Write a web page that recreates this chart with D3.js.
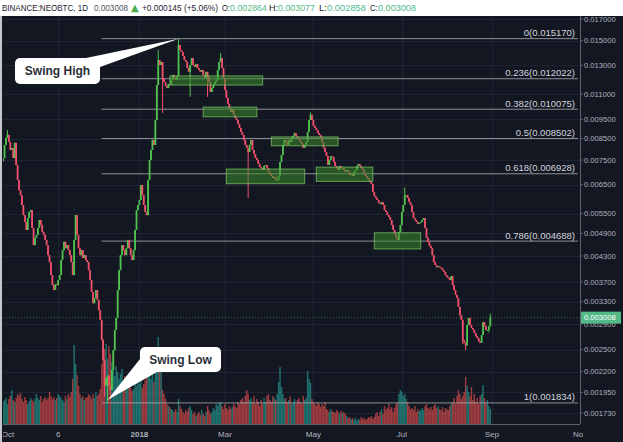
<!DOCTYPE html>
<html><head><meta charset="utf-8">
<script src="https://cdn.jsdelivr.net/npm/d3@7"></script>
<style>html,body{margin:0;padding:0;background:#fff;}svg{display:block;}</style>
</head><body>
<svg id="c" width="623" height="442"></svg>
<script>
// ---------------- DATA ----------------
const startDate = "2017-09-29";          // first daily candle
const firstOpen = 0.00745;
const closes = [
 0.00759,0.00819,0.00853,0.00868,0.00833,0.00795,0.00805,0.00759,0.00829,0.00729,
 0.00668,0.00630,0.00612,0.00578,0.00545,0.00524,0.00500,0.00536,0.00555,0.00561,
 0.00506,0.00458,0.00478,0.00486,0.00506,0.00530,0.00515,0.00494,0.00486,0.00472,
 0.00458,0.00432,0.00415,0.00385,0.00363,0.00353,0.00365,0.00363,0.00374,0.00385,
 0.00420,0.00445,0.00467,0.00450,0.00458,0.00445,0.00432,0.00415,0.00385,0.00472,
 0.00545,0.00486,0.00450,0.00432,0.00445,0.00425,0.00432,0.00420,0.00415,0.00396,
 0.00374,0.00349,0.00327,0.00337,0.00353,0.00333,0.00314,0.00297,0.00264,0.00235,
 0.00203,0.00212,0.00215,0.00203,0.00198,0.00222,0.00249,0.00280,0.00300,0.00353,
 0.00396,0.00432,0.00458,0.00445,0.00432,0.00450,0.00472,0.00450,0.00432,0.00420,
 0.00445,0.00500,0.00561,0.00578,0.00595,0.00649,0.00612,0.00578,0.00555,0.00545,
 0.00668,0.00750,0.00795,0.00843,0.00819,0.00946,0.01159,0.01340,0.01302,0.01325,
 0.01207,0.01180,0.01153,0.01139,0.01166,0.01159,0.01193,0.01229,0.01207,0.01193,
 0.01222,0.01462,0.01420,0.01404,0.01372,0.01340,0.01325,0.01280,0.01251,0.01302,
 0.01356,0.01302,0.01288,0.01310,0.01280,0.01265,0.01251,0.01265,0.01229,0.01207,
 0.01251,0.01222,0.01180,0.01113,0.01139,0.01159,0.01180,0.01193,0.01265,0.01325,
 0.01356,0.01280,0.01207,0.01126,0.01076,0.01039,0.01015,0.00992,0.01003,0.00975,
 0.00958,0.00946,0.00925,0.00904,0.00883,0.00868,0.00843,0.00819,0.00805,0.00786,
 0.00819,0.00843,0.00795,0.00777,0.00759,0.00750,0.00733,0.00721,0.00716,0.00708,
 0.00725,0.00729,0.00716,0.00700,0.00692,0.00684,0.00676,0.00680,0.00668,0.00668,
 0.00684,0.00742,0.00773,0.00819,0.00843,0.00833,0.00819,0.00843,0.00833,0.00853,
 0.00863,0.00878,0.00863,0.00853,0.00843,0.00833,0.00824,0.00805,0.00819,0.00833,
 0.00883,0.00946,0.00975,0.00946,0.00915,0.00904,0.00893,0.00878,0.00868,0.00858,
 0.00833,0.00805,0.00786,0.00768,0.00729,0.00750,0.00768,0.00764,0.00742,0.00725,
 0.00716,0.00708,0.00725,0.00716,0.00716,0.00708,0.00700,0.00708,0.00700,0.00688,
 0.00692,0.00684,0.00700,0.00708,0.00725,0.00733,0.00725,0.00716,0.00708,0.00696,
 0.00684,0.00676,0.00668,0.00660,0.00653,0.00623,0.00609,0.00602,0.00595,0.00585,
 0.00581,0.00588,0.00578,0.00561,0.00555,0.00545,0.00539,0.00530,0.00515,0.00500,
 0.00489,0.00480,0.00472,0.00494,0.00515,0.00555,0.00578,0.00612,0.00612,0.00602,
 0.00588,0.00578,0.00555,0.00536,0.00530,0.00524,0.00518,0.00521,0.00524,0.00530,
 0.00536,0.00506,0.00478,0.00467,0.00456,0.00450,0.00432,0.00415,0.00408,0.00403,
 0.00405,0.00403,0.00401,0.00396,0.00392,0.00385,0.00381,0.00378,0.00374,0.00383,
 0.00363,0.00353,0.00343,0.00337,0.00320,0.00305,0.00297,0.00264,0.00260,0.00256,
 0.00288,0.00300,0.00288,0.00283,0.00280,0.00275,0.00270,0.00267,0.00262,0.00260,
 0.00272,0.00293,0.00286,0.00280,0.00280,0.002864,0.003008
];
const volumes = [
 22,24,26,20,25,28,34,24,22,26, 30,28,31,25,22,27,24,20,23,26,
 24,22,25,30,26,24,28,22,25,27, 24,26,32,28,25,27,24,26,30,28,
 26,24,22,28,25,30,27,32,45,79, 60,49,38,30,26,28,24,26,27,30,
 28,25,30,26,32,28,30,35,60,85, 75,80,65,78,70,62,55,48,58,52,
 45,50,55,42,48,40,38,44,36,33, 35,42,38,45,40,48,36,40,44,52,
 48,55,45,50,42,55,60,87,65,58, 34,30,25,20,18,17,15,14,12,15,
 12,25,18,15,12,10,14,12,16,18, 14,10,12,8,10,12,9,14,10,8,
 12,18,14,10,12,16,14,20,18,21, 22,18,15,20,16,14,18,15,17,20,
 18,16,22,20,24,26,22,28,34,30, 24,26,22,28,20,25,22,18,24,20,
 26,22,28,30,24,22,28,26,24,30, 42,57,37,30,25,26,22,24,28,20,
 22,25,20,24,26,22,20,28,24,26, 53,45,41,25,22,20,18,22,20,17,
 20,18,22,15,14,12,15,13,12,11, 14,12,10,13,11,12,10,8,6,7,
 5,6,4,6,3,5,4,7,5,6, 4,5,7,6,8,5,7,10,12,8,
 12,15,10,18,14,16,20,15,17,12, 16,20,22,30,34,32,28,30,25,22,
 18,15,16,14,18,12,15,13,14,16, 14,18,20,16,15,17,14,18,20,16,
 18,15,14,17,12,16,15,14,18,20, 22,26,20,28,34,30,25,28,32,47,
 38,32,28,37,24,30,22,26,20,28, 30,39,26,22,24,18,15
];
// notable wicks: [candle index, high, low]
const wicks = [
 [3,0.00893,null],[70,null,0.00190],[72,null,0.001834],[74,null,0.00192],
 [107,0.01420,null],[110,null,0.00986],[121,0.01517,null],[129,null,0.01082],
 [141,null,0.01082],[150,0.01395,null],[169,null,0.00602],[212,0.00989,null],
 [277,0.00640,null],[317,null,0.00258],[319,null,0.00249],[335,null,0.00276],
 [336,0.003077,0.002858]
];
const fibRatios = ["0","0.236","0.382","0.5","0.618","0.786","1"];
const fibValues = [0.015170,0.012022,0.010075,0.008502,0.006928,0.004688,0.001834];
const fibStart = "2017-12-06";
const zoneFrom = ["2018-01-22","2018-02-14","2018-04-02","2018-03-02","2018-05-03","2018-06-12"];
const zoneTo   = ["2018-03-27","2018-03-23","2018-05-18","2018-04-25","2018-06-11","2018-07-14"];
const zoneHi   = [0.01222,0.01020,0.00858,0.00712,0.00720,0.00492];
const zoneLo   = [0.01159,0.00964,0.00815,0.00654,0.00663,0.00448];
const priceTicks = [0.017,0.015,0.013,0.011,0.0095,0.0085,0.0075,0.0065,0.0055,0.0049,0.0043,0.0037,0.0033,0.0029,0.0025,0.0022,0.00195,0.00173];
const timeTicks  = ["2017-10-01","2017-11-06","2018-01-01","2018-03-01","2018-05-01","2018-07-01","2018-09-01","2018-11-01"];
const timeLabels = ["Oct","6","2018","Mar","May","Jul","Sep","Nov"];
const lastPrice = 0.003008;
const headerTexts = ["BINANCE:NEOBTC, 1D","0.003008","▲","+0.000145 (+5.06%)","O:","0.002864","H:","0.003077","L:","0.002858","C:","0.003008"];
const headerKinds = ["sym","muted","tri","dark","dark","up","dark","up","dark","up","dark","up"];

// ---------------- LAYOUT ----------------
const W = 623, H = 442;
const plot = {l:3, r:580, t:16, b:424};
const parse = d3.utcParse("%Y-%m-%d");
const t0 = parse(startDate);
const x = d3.scaleUtc().domain([t0, parse("2018-11-01")]).range([3.1, 580.2]);
const y = d3.scaleLog().domain([0.00173, 0.017]).range([413, 19]);
const yv = d3.scaleLinear().domain([0, 100]).range([plot.b, plot.b - 100]);
const C = {bg:"#131722", grid:"#1f2332", up:"#4fc24f", down:"#f0506a",
           vUp:"#26a69a", vDown:"#ef5350", axis:"#5d606b", text:"#b2b5be"};

const data = closes.map((c,i)=>{
  const o = i===0 ? firstOpen : closes[i-1];
  return {date:d3.utcDay.offset(t0,i), o, c, h:Math.max(o,c), l:Math.min(o,c), v:volumes[i]};
});
wicks.forEach(([i,h,l])=>{ if(h!=null) data[i].h=Math.max(data[i].h,h); if(l!=null) data[i].l=Math.min(data[i].l,l); });

const svg = d3.select("#c");
svg.append("rect").attr("width",W).attr("height",H).attr("fill","#ffffff");
svg.append("rect").attr("x",2).attr("y",plot.t).attr("width",W-2).attr("height",H-plot.t).attr("fill",C.bg);
svg.append("line").attr("x1",1).attr("x2",1).attr("y1",plot.t).attr("y2",H).attr("stroke","#c5c7cc").attr("stroke-width",2);

const defs = svg.append("defs");
defs.append("clipPath").attr("id","pc").append("rect")
  .attr("x",plot.l).attr("y",plot.t).attr("width",plot.r-plot.l).attr("height",plot.b-plot.t);
defs.append("clipPath").attr("id","xc").append("rect")
  .attr("x",plot.l).attr("y",plot.b).attr("width",583-plot.l).attr("height",H-plot.b);

// header
const hx = [2,94,131,142,222,230,269,278,319,327,370,378];
const hw = [86,34,8,76,8,37,9,37,8,39,8,38];
const hcol = {sym:"#1e222d", muted:"#50535e", tri:"#4caf50", up:"#53b987", dark:"#1e222d"};
const hg = svg.append("g").attr("font-family","'Liberation Sans', Arial, sans-serif").attr("font-size",8.8);
headerTexts.forEach((t,i)=>{
  const tx = hg.append("text").attr("x",hx[i]).attr("y",10.5).text(t)
    .attr("fill", hcol[headerKinds[i]]);
  if (headerKinds[i]==="tri") tx.attr("font-size",10).attr("font-family","'DejaVu Sans', sans-serif");
  else tx.attr("textLength", hw[i]).attr("lengthAdjust","spacingAndGlyphs");
});

// grid
const g = svg.append("g").attr("clip-path","url(#pc)");
g.selectAll(".hg").data(priceTicks).join("line")
  .attr("x1",plot.l).attr("x2",plot.r).attr("y1",d=>Math.round(y(d))+0.5).attr("y2",d=>Math.round(y(d))+0.5)
  .attr("stroke",C.grid).attr("stroke-width",1);
g.selectAll(".vg").data(timeTicks.slice(1,7)).join("line")
  .attr("x1",d=>Math.round(x(parse(d)))+0.5).attr("x2",d=>Math.round(x(parse(d)))+0.5)
  .attr("y1",plot.t).attr("y2",plot.b).attr("stroke",C.grid).attr("stroke-width",1);

// volume
const bw = x(d3.utcDay.offset(t0,1)) - x(t0);
g.selectAll(".vol").data(data).join("rect")
  .attr("x",d=>x(d.date)-bw/2).attr("width",bw)
  .attr("y",d=>yv(d.v)).attr("height",d=>plot.b-yv(d.v))
  .attr("fill",d=>d.c>=d.o?C.vUp:C.vDown).attr("fill-opacity",0.62);

// fib lines
const fx1 = x(parse(fibStart));
g.selectAll(".fib").data(fibValues).join("line")
  .attr("x1",fx1).attr("x2",plot.r-2).attr("y1",d=>y(d)).attr("y2",d=>y(d))
  .attr("stroke","#a3a6af").attr("stroke-opacity",0.85).attr("stroke-width",1);

// current price line
g.append("line").attr("x1",plot.l).attr("x2",plot.r).attr("y1",y(lastPrice)).attr("y2",y(lastPrice))
  .attr("stroke","#4f8f6e").attr("stroke-opacity",0.6).attr("stroke-dasharray","1,2");

// candles
const cb = 1.8;
g.selectAll(".wick").data(data).join("line")
  .attr("x1",d=>x(d.date)).attr("x2",d=>x(d.date)).attr("y1",d=>y(d.h)).attr("y2",d=>y(d.l))
  .attr("stroke",d=>d.c>=d.o?C.up:C.down).attr("stroke-width",1);
g.selectAll(".body").data(data).join("rect")
  .attr("x",d=>x(d.date)-cb/2).attr("width",cb)
  .attr("y",d=>y(Math.max(d.o,d.c))).attr("height",d=>Math.max(1,Math.abs(y(d.o)-y(d.c))))
  .attr("fill",d=>d.c>=d.o?C.up:C.down);

// zones
g.selectAll(".zone").data(zoneFrom.map((f,i)=>({f:parse(f),t:parse(zoneTo[i]),hi:zoneHi[i],lo:zoneLo[i]}))).join("rect")
  .attr("x",d=>x(d.f)).attr("width",d=>x(d.t)-x(d.f))
  .attr("y",d=>y(d.hi)).attr("height",d=>y(d.lo)-y(d.hi))
  .attr("fill","#3d8a2a").attr("fill-opacity",0.55).attr("stroke","#7cc46a").attr("stroke-opacity",0.75).attr("stroke-width",1);

// fib labels
g.selectAll(".fl").data(fibValues).join("text")
  .attr("x",575).attr("y",d=>y(d)-2.5).attr("text-anchor","end")
  .attr("font-family","'Liberation Sans', Arial, sans-serif").attr("font-size",9.5).attr("fill","#d1d4dc")
  .text((d,i)=>fibRatios[i]+"("+d.toFixed(6)+")");

// callouts
function callout(bx,by,bwid,bh,pts,label){
  const cg = svg.append("g");
  cg.append("polygon").attr("points",pts.map(p=>p.join(",")).join(" ")).attr("fill","#ffffff");
  cg.append("rect").attr("x",bx).attr("y",by).attr("width",bwid).attr("height",bh).attr("rx",5).attr("fill","#ffffff");
  cg.append("text").attr("x",bx+bwid/2).attr("y",by+bh/2+4.2).attr("text-anchor","middle")
    .attr("font-family","'Liberation Sans', Arial, sans-serif").attr("font-weight","bold").attr("font-size",12)
    .attr("fill","#2a2e39").text(label);
}
callout(15,58,85,26,[[86,58],[100,67],[x(data[121].date),y(data[121].h)]],"Swing High");
callout(140,347,81,25,[[140,359],[157,372],[x(data[72].date),y(data[72].l)-3]],"Swing Low");

// right axis
svg.append("line").attr("x1",plot.r+0.5).attr("x2",plot.r+0.5).attr("y1",plot.t).attr("y2",plot.b).attr("stroke",C.axis);
svg.append("line").attr("x1",plot.l).attr("x2",plot.r).attr("y1",plot.b+0.5).attr("y2",plot.b+0.5).attr("stroke",C.axis);
const ra = svg.append("g").attr("font-family","'Liberation Sans', Arial, sans-serif").attr("font-size",7.6).attr("fill",C.text);
priceTicks.forEach(v=>{
  ra.append("line").attr("x1",plot.r).attr("x2",plot.r+3).attr("y1",y(v)).attr("y2",y(v)).attr("stroke",C.axis);
  ra.append("text").attr("x",584).attr("y",y(v)).attr("dy","0.35em").text(v.toFixed(6));
});
svg.append("rect").attr("x",581).attr("y",y(lastPrice)-6).attr("width",40).attr("height",12).attr("fill","#53b987");
svg.append("text").attr("x",584).attr("y",y(lastPrice)).attr("dy","0.35em")
  .attr("font-family","'Liberation Sans', Arial, sans-serif").attr("font-size",7.6).attr("fill","#ffffff").text(lastPrice.toFixed(6));

// time axis
const xa = svg.append("g").attr("clip-path","url(#xc)").attr("font-family","'Liberation Sans', Arial, sans-serif").attr("font-size",8).attr("fill",C.text);
timeTicks.forEach((d,i)=>{
  xa.append("text").attr("x",x(parse(d))+ (i===0?2:0)).attr("y",437).attr("text-anchor","middle")
    .attr("font-weight",timeLabels[i]==="2018"?"bold":"normal").text(timeLabels[i]);
});
</script>
</body></html>
